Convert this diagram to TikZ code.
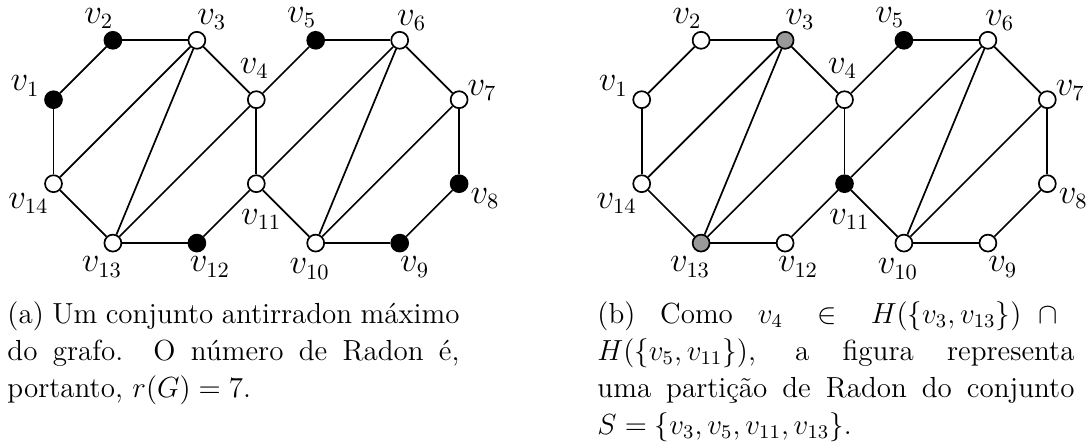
\documentclass[tikz,border=0pt,12pt]{standalone}
\usepackage{fontspec}
\usepackage{amsmath}

\tikzset{
  vertice/.style={circle, draw, line width=0.7pt, fill=white, inner sep=0pt, minimum size=7pt},
  cheio/.style={fill=black},
  cinza/.style={fill=black!40},
  rotulo/.style={inner sep=0pt, font=\fontsize{13.5}{16}\selectfont},
  aresta/.style={line width=0.7pt},
  legenda/.style={anchor=north west, inner sep=0pt, align=justify,
    font=\fontsize{12}{15.3}\selectfont}
}

% vertice / x / y / deslocamento do rotulo
\newcommand{\posicoes}{1/53.5/99.7/-28.5/-13.7, 2/112.9/40.3/-14/-22,
  3/196.9/40.3/15/-21, 4/256.3/99.7/-2/-31, 5/315.7/40.3/-14/-23,
  6/399.7/40.3/12/-20, 7/459.1/99.7/23/-9, 8/459.1/183.7/26/15,
  9/399.7/243.1/15/24, 10/315.7/243.1/-6/26, 11/256.3/183.7/5/36,
  12/196.9/243.1/13/24, 13/112.9/243.1/-11/24, 14/53.5/183.7/-25/20}
\newcommand{\arestas}{1/2, 2/3, 3/4, 4/11, 11/12, 12/13, 13/14, 14/1,
  3/14, 3/13, 4/13, 4/5, 5/6, 6/7, 7/8, 8/9, 9/10, 10/11, 6/11, 6/10, 7/10}

% #1 prefixo dos nomes, #2 deslocamento, #3 cores dos vertices
\newcommand{\grafo}[3]{%
  \begin{scope}[shift={(#2,0)}, #3]
    \foreach \n/\x/\y/\lx/\ly in \posicoes {
      \node[vertice, c\n/.try] (#1\n) at (\x,\y) {};
      \node[rotulo] (#1l\n) at (\x+\lx,\y+\ly) {$v_{\n}$};
    }
    \foreach \a/\b in \arestas
      \draw[aresta] (#1\a) -- (#1\b);
  \end{scope}
}

\begin{document}
\begin{tikzpicture}[x=0.413pt, y=-0.413pt]
  \useasboundingbox (0,0) rectangle (1089,444);

  % (a) conjunto antirradon maximo
  \grafo{a}{0}{c1/.style=cheio, c2/.style=cheio, c5/.style=cheio,
    c8/.style=cheio, c9/.style=cheio, c12/.style=cheio}
  % (b) particao de Radon
  \grafo{b}{588.2}{c3/.style=cinza, c13/.style=cinza,
    c5/.style=cheio, c11/.style=cheio}

  \node[legenda, text width=186.7pt] (lega) at (7,301.2)
    {(a) Um conjunto antirradon máximo\linebreak do grafo. O número de Radon é,\linebreak portanto, $r(G)=7$.};
  \node[legenda, text width=197pt] (legb) at (597,301.2)
    {(b) Como $v_4 \in H(\{v_3,v_{13}\}) \cap{}$\linebreak $H(\{v_5,v_{11}\})$, a figura representa\linebreak uma partição de Radon do conjunto\linebreak $S=\{v_3,v_5,v_{11},v_{13}\}$.};
\end{tikzpicture}
\end{document}
